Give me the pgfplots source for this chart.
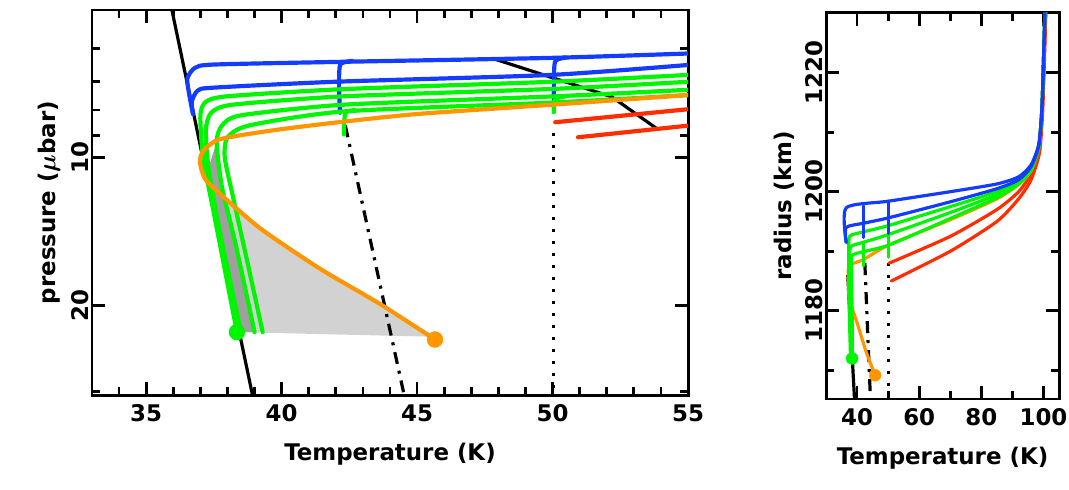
\documentclass[border=0pt]{standalone}
\usepackage{pgfplots}
\pgfplotsset{compat=1.18}
\usepackage{fontspec}
\setmainfont{DejaVu Sans}
\definecolor{cb}{RGB}{20,60,255}
\definecolor{cg}{RGB}{0,245,0}
\definecolor{co}{RGB}{255,150,0}
\definecolor{cr}{RGB}{255,45,0}
\pgfplotsset{
  every axis/.append style={
    scale only axis, axis line style={line width=3pt},
    tick style={line width=2.8pt, black}, major tick length=13bp, minor tick length=8bp,
    tick align=inside, tick pos=both,
    tick label style={font=\fontsize{23}{26}\selectfont\bfseries},
    label style={font=\fontsize{23}{26}\selectfont\bfseries},
    /pgf/number format/assume math mode=true, clip=true},
  cl/.style={line width=4.2pt, line join=round, line cap=round, smooth, tension=0.4},
  bl/.style={black, line width=3.2pt},
}
\begin{document}
\begin{tikzpicture}
\path[use as bounding box] (0,0) rectangle (1069bp,490bp);
% ---------- left panel ----------
\begin{axis}[at={(92bp,95bp)}, anchor=south west, width=596bp, height=385bp,
  xmin=33, xmax=55, ymin=5, ymax=30.5, ymode=log, y dir=reverse,
  xtick={35,40,45,50,55}, minor xtick={33,34,36,37,38,39,41,42,43,44,46,47,48,49,51,52,53,54},
  ytick={10,20}, yticklabels={10,20}, minor ytick={6,7,8,9,30},
  xlabel={Temperature (K)}, ylabel={pressure ({\boldmath$\mu$}bar)},
  xlabel style={yshift=-14bp}, ylabel style={yshift=4bp},
  xticklabel style={yshift=-6bp}, yticklabel style={rotate=90, xshift=0bp}]
% shading
\addplot[fill=gray!35, draw=none] coordinates {(37.3,9.5)(37.1,10)(37.5,13)(38.35,22.7)(45.66,23.2)(43.63,19.89)(41.42,16.86)(39.2,13.93)(37.54,11.53)(37.3,10.5)} --cycle;
\addplot[fill=gray!75, draw=none] coordinates {(37.6,9.3)(37.8,11.5)(38.3,15)(39.0,22.7)(38.5,22.7)(37.7,14)(37.3,10.5)} --cycle;
% black lines
\addplot[bl] coordinates {(35.95,5)(38.95,31)};
\addplot[bl, dash pattern=on 12bp off 7bp on 3bp off 7bp] coordinates {(42.35,8.6)(44.55,31)};
\addplot[bl, dash pattern=on 3bp off 9bp] coordinates {(50.05,8.9)(50.05,31)};
\addplot[bl] coordinates {(47.8,6.28)(52.19,7.52)(53.89,8.76)};
% blue
\addplot[cb, cl] coordinates {(55.5,6.12)(50,6.26)(42.1,6.38)(37.5,6.46)(36.8,6.56)(36.52,6.9)(36.6,7.5)(36.73,8.15)};
\addplot[cb, cl] coordinates {(55.5,6.44)(50,6.78)(42.1,7.0)(37.5,7.2)(36.9,7.3)(36.68,7.7)(36.73,8.15)};
\addplot[cb, cl] coordinates {(42.6,6.35)(42.17,6.45)(42.12,7.0)(42.15,8.1)};
\addplot[cb, cl] coordinates {(50.5,6.25)(50.1,6.36)(50.05,7.0)(50.05,7.99)};
% green
\addplot[cg, cl] coordinates {(55.5,6.76)(50.1,7.0)(42.3,7.25)(38,7.5)(37.2,7.7)(37.0,8.2)(37.1,10)(37.5,13)(38.35,22.7)};
\addplot[cg, cl] coordinates {(55.5,6.98)(50.1,7.24)(42.3,7.5)(38.2,7.8)(37.4,8.1)(37.2,8.8)(37.3,10.5)(37.7,14)(38.5,22.7)};
\addplot[cg, cl] coordinates {(55.5,7.25)(50.1,7.5)(42.3,7.8)(38.5,8.2)(37.8,8.6)(37.6,9.3)(37.8,11.5)(38.3,15)(39.0,22.7)};
\addplot[cg, cl] coordinates {(55.5,7.43)(50.1,7.72)(42.3,8.05)(38.8,8.6)(38.0,9.1)(37.9,10)(38.2,12)(38.7,16)(39.3,22.7)};
\addplot[cg, cl] coordinates {(42.7,8.0)(42.35,8.12)(42.3,8.97)};
\addplot[cg, cl] coordinates {(50.5,7.5)(50.1,7.6)(50.05,8.08)};
% orange
\addplot[co, cl] coordinates {(55.5,7.42)(50,7.8)(45,8.15)(42.1,8.47)(40,8.75)(38.5,9.0)(37.6,9.22)(37.1,9.7)(36.98,10.2)(37.15,11.0)(37.54,11.6)(39.2,13.93)(41.42,16.86)(43.63,19.89)(45.66,23.5)};
% red
\addplot[cr, cl] coordinates {(50.1,8.47)(55.5,7.92)};
\addplot[cr, cl] coordinates {(50.94,9.09)(55.5,8.55)};
% dots
\addplot[only marks, mark=*, mark size=8pt, cg] coordinates {(38.35,22.7)};
\addplot[only marks, mark=*, mark size=8pt, co] coordinates {(45.66,23.5)};
\end{axis}
% ---------- right panel ----------
\begin{axis}[at={(826bp,91bp)}, anchor=south west, width=233bp, height=386bp,
  xmin=30, xmax=105, ymin=1165.2, ymax=1230,
  xtick={40,60,80,100}, minor xtick={50,70,90},
  ytick={1180,1200,1220}, minor ytick={1170,1190,1210},
  xlabel={Temperature (K)}, ylabel={radius (km)},
  xlabel style={yshift=-14bp}, ylabel style={yshift=4bp},
  xticklabel style={yshift=-6bp}, yticklabel style={rotate=90},
  /pgf/number format/1000 sep={}]
\addplot[bl] coordinates {(37.0,1186)(39.3,1164)};
\addplot[bl, dash pattern=on 12bp off 7bp on 3bp off 7bp] coordinates {(42.5,1188)(44.4,1164)};
\addplot[bl, dash pattern=on 3bp off 9bp] coordinates {(50,1188)(50,1164)};
\addplot[cr, cl, line width=3.2pt] coordinates {(50.3,1188)(70,1192.5)(85,1197)(92,1200)(96,1203)(98.5,1207)(99.5,1213)(100.2,1222)(100.8,1231)};
\addplot[cr, cl, line width=3.2pt] coordinates {(51,1185)(70,1190)(85,1195)(92,1198.8)(96,1202)(98.7,1206.5)(99.7,1213)(100.3,1222)(100.8,1231)};
\addplot[co, cl, line width=3.2pt] coordinates {(45.8,1169.2)(43,1173)(40,1178)(37.5,1182)(37.2,1185)(37.2,1187)(38,1187.8)(42,1188.6)(50,1191)(70,1195.3)(85,1198.8)(92,1201.2)(96,1203.5)(98.5,1207.5)(99.5,1214)(100,1222)(100.5,1231)};
\addplot[cg, cl, line width=3.2pt] coordinates {(38.5,1172)(38.4,1180)(38.2,1188)(39,1189.5)(50,1191)(70,1195.5)(85,1199)(92,1201.3)(96,1203.6)(98.5,1207.5)(99.5,1214)(100,1222)(100.5,1231)};
\addplot[cg, cl, line width=3.2pt] coordinates {(38.2,1172)(37.8,1180)(37.5,1189)(38,1190.8)(42,1191.5)(50,1192.8)(70,1196.5)(85,1199.5)(92,1201.5)(96,1203.8)(98.5,1207.5)(99.5,1214)(100,1222)(100.5,1231)};
\addplot[cg, cl, line width=3.2pt] coordinates {(37.9,1172)(37.5,1180)(37.3,1190)(37.6,1192.5)(40,1193)(50,1194.3)(70,1197.5)(85,1200)(92,1201.8)(96,1204)(98.5,1207.5)(99.5,1214)(100,1222)(100.5,1231)};
\addplot[cg, cl, line width=3.2pt] coordinates {(42,1191.5)(42,1187.5)};
\addplot[cg, cl, line width=3.2pt] coordinates {(50,1192.8)(50,1189)};
\addplot[cb, cl, line width=3.2pt] coordinates {(36.5,1191.5)(36.5,1194)(42,1194.7)(50,1195.6)(70,1198.3)(85,1200.5)(92,1202)(96,1204.2)(98.5,1207.8)(99.5,1214)(100,1222)(100.5,1231)};
\addplot[cb, cl, line width=3.2pt] coordinates {(36.5,1191.5)(36.5,1197.3)(50,1198.4)(70,1200)(85,1201.3)(92,1202.5)(96,1204.5)(98.5,1208)(99.5,1214)(100,1222)(100.5,1231)};
\addplot[cb, cl, line width=3.2pt] coordinates {(42,1197.6)(42,1192.3)};
\addplot[cb, cl, line width=3.2pt] coordinates {(50,1198.4)(50,1193)};
\addplot[only marks, mark=*, mark size=6pt, cg] coordinates {(38.4,1172)};
\addplot[only marks, mark=*, mark size=6pt, co] coordinates {(45.8,1169.2)};
\end{axis}
\end{tikzpicture}
\end{document}
